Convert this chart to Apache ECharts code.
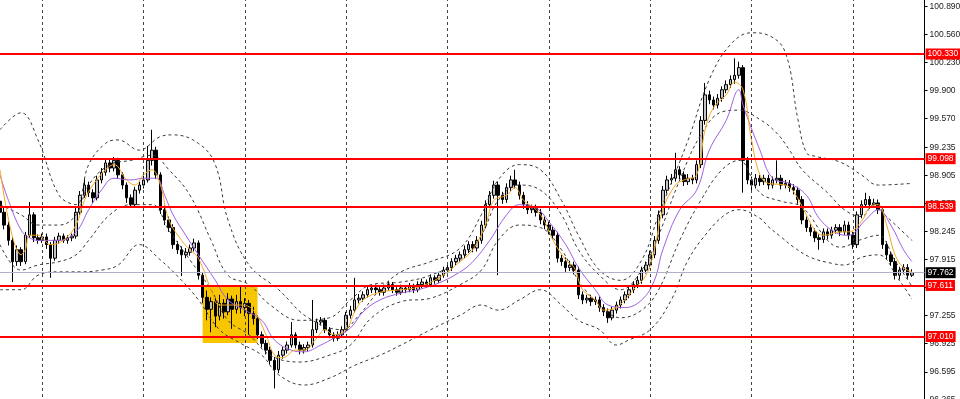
<!DOCTYPE html>
<html><head><meta charset="utf-8">
<script src="https://cdn.jsdelivr.net/npm/echarts@6/dist/echarts.min.js"></script>
<style>html,body{margin:0;padding:0;background:#fff;overflow:hidden}#c{width:960px;height:399px}</style>
</head><body><div id="c"></div>
<script>
const opens = [98.60,98.47,98.32,98.14,97.89,98.03,97.89,98.20,98.44,98.17,98.14,98.18,98.09,97.93,98.14,98.19,98.14,98.17,98.19,98.47,98.67,98.79,98.70,98.64,98.85,98.94,99.05,98.99,99.08,98.91,98.79,98.64,98.56,98.73,98.79,98.85,99.08,99.20,98.91,98.50,98.38,98.29,98.09,98.03,97.97,98.00,98.05,98.11,97.73,97.47,97.33,97.42,97.25,97.40,97.30,97.45,97.33,97.42,97.35,97.40,97.28,97.22,97.03,96.93,96.85,96.73,96.62,96.79,96.85,96.91,97.03,96.91,96.85,96.88,96.91,97.09,97.18,97.20,97.09,97.03,96.99,97.03,97.09,97.26,97.32,97.44,97.46,97.50,97.56,97.58,97.56,97.53,97.58,97.62,97.56,97.53,97.58,97.56,97.60,97.56,97.62,97.65,97.62,97.70,97.67,97.73,97.79,97.82,97.89,97.93,97.97,98.03,98.09,98.05,98.14,98.32,98.56,98.67,98.79,98.67,98.62,98.76,98.85,98.79,98.67,98.56,98.50,98.52,98.47,98.38,98.32,98.26,98.20,97.93,97.89,97.82,97.85,97.79,97.50,97.44,97.46,97.42,97.44,97.35,97.30,97.23,97.32,97.38,97.44,97.50,97.56,97.62,97.67,97.79,97.85,97.97,98.14,98.44,98.73,98.85,98.87,98.97,98.91,98.83,98.87,98.85,99.03,99.55,99.85,99.79,99.73,99.81,99.91,99.97,100.03,100.08,100.17,99.08,98.85,98.79,98.87,98.83,98.87,98.79,98.85,98.87,98.79,98.81,98.76,98.73,98.62,98.38,98.29,98.24,98.17,98.15,98.24,98.20,98.26,98.29,98.24,98.32,98.20,98.09,98.44,98.56,98.62,98.56,98.58,98.50,98.09,97.97,97.89,97.73,97.79,97.82,97.73];
const closes = [98.47,98.32,98.14,97.89,98.03,97.89,98.20,98.44,98.17,98.14,98.18,98.09,97.93,98.14,98.19,98.14,98.17,98.19,98.47,98.67,98.79,98.70,98.64,98.85,98.94,99.05,98.99,99.08,98.91,98.79,98.64,98.56,98.73,98.79,98.85,99.08,99.20,98.91,98.50,98.38,98.29,98.09,98.03,97.97,98.00,98.05,98.11,97.73,97.47,97.33,97.42,97.25,97.40,97.30,97.45,97.33,97.42,97.35,97.40,97.28,97.22,97.03,96.93,96.85,96.73,96.62,96.79,96.85,96.91,97.03,96.91,96.85,96.88,96.91,97.09,97.18,97.20,97.09,97.03,96.99,97.03,97.09,97.26,97.32,97.44,97.46,97.50,97.56,97.58,97.56,97.53,97.58,97.62,97.56,97.53,97.58,97.56,97.60,97.56,97.62,97.65,97.62,97.70,97.67,97.73,97.79,97.82,97.89,97.93,97.97,98.03,98.09,98.05,98.14,98.32,98.56,98.67,98.79,98.67,98.62,98.76,98.85,98.79,98.67,98.56,98.50,98.52,98.47,98.38,98.32,98.26,98.20,97.93,97.89,97.82,97.85,97.79,97.50,97.44,97.46,97.42,97.44,97.35,97.30,97.23,97.32,97.38,97.44,97.50,97.56,97.62,97.67,97.79,97.85,97.97,98.14,98.44,98.73,98.85,98.87,98.97,98.91,98.83,98.87,98.85,99.03,99.55,99.85,99.79,99.73,99.81,99.91,99.97,100.03,100.08,100.17,99.08,98.85,98.79,98.87,98.83,98.87,98.79,98.85,98.87,98.79,98.81,98.76,98.73,98.62,98.38,98.29,98.24,98.17,98.15,98.24,98.20,98.26,98.29,98.24,98.32,98.20,98.09,98.44,98.56,98.62,98.56,98.58,98.50,98.09,97.97,97.89,97.73,97.79,97.82,97.73,97.76];
const highs = [98.66,98.52,98.36,98.18,98.08,98.06,98.24,98.59,98.47,98.21,98.22,98.22,98.12,98.18,98.23,98.22,98.20,98.22,98.52,98.72,98.86,98.83,98.74,98.90,98.99,99.10,99.09,99.12,99.11,98.94,98.82,98.68,98.77,98.83,98.90,99.25,99.44,99.24,98.94,98.55,98.42,98.33,98.13,98.07,98.05,98.09,98.16,98.14,97.76,97.55,97.47,97.46,97.50,97.45,97.52,97.49,97.50,97.60,97.46,97.44,97.36,97.26,97.07,96.97,96.89,96.77,96.84,96.89,96.95,97.18,97.06,96.95,96.92,96.95,97.44,97.22,97.24,97.23,97.12,97.06,97.07,97.13,97.30,97.37,97.70,97.51,97.54,97.60,97.62,97.62,97.59,97.62,97.66,97.65,97.59,97.62,97.61,97.64,97.63,97.66,97.69,97.68,97.74,97.73,97.77,97.83,97.86,97.93,97.97,98.01,98.08,98.13,98.13,98.19,98.37,98.61,98.72,98.84,98.83,98.71,98.81,98.90,98.97,98.83,98.71,98.60,98.56,98.56,98.51,98.42,98.36,98.30,98.24,97.97,97.94,97.90,97.89,97.83,97.54,97.50,97.50,97.48,97.48,97.39,97.34,97.36,97.42,97.48,97.54,97.60,97.66,97.72,97.83,97.89,98.02,98.19,98.49,98.78,98.90,98.92,99.17,99.01,98.95,98.92,98.91,99.08,99.60,99.99,99.90,99.83,99.86,99.95,100.02,100.08,100.28,100.24,100.20,99.12,98.89,98.92,98.91,98.91,98.91,98.89,99.08,98.91,98.85,98.85,98.80,98.77,98.66,98.42,98.33,98.28,98.21,98.28,98.28,98.30,98.33,98.33,98.37,98.36,98.24,98.48,98.61,98.70,98.66,98.63,98.62,98.54,98.13,98.01,97.93,97.83,97.86,97.86,97.80];
const lows = [98.42,98.27,98.08,97.65,97.84,97.84,97.86,98.17,98.12,98.10,98.11,98.04,97.70,97.90,98.10,98.11,98.10,98.13,98.16,98.44,98.64,98.65,98.58,98.61,98.81,98.90,98.94,98.95,98.87,98.74,98.58,98.52,98.53,98.69,98.75,98.82,99.02,98.86,98.45,98.32,98.24,98.04,97.98,97.72,97.93,97.96,98.01,97.68,97.40,97.20,97.06,97.12,97.20,97.22,97.26,97.10,97.28,97.28,97.25,97.03,97.15,96.98,96.88,96.80,96.68,96.40,96.58,96.75,96.81,96.88,96.87,96.80,96.81,96.84,96.88,97.05,97.14,97.05,96.99,96.95,96.96,97.00,97.06,97.22,97.29,97.40,97.42,97.47,97.52,97.52,97.49,97.49,97.55,97.52,97.49,97.50,97.52,97.53,97.52,97.53,97.58,97.58,97.59,97.63,97.64,97.70,97.75,97.78,97.85,97.89,97.93,97.99,98.00,98.01,98.10,98.28,98.52,98.63,97.73,98.57,98.58,98.72,98.75,98.62,98.51,98.45,98.46,98.42,98.33,98.27,98.21,98.15,97.88,97.84,97.77,97.78,97.74,97.45,97.39,97.40,97.37,97.38,97.30,97.25,97.17,97.20,97.28,97.34,97.40,97.46,97.52,97.58,97.63,97.75,97.81,97.93,98.10,98.40,98.69,98.80,98.83,98.86,98.78,98.79,98.80,98.81,98.99,99.50,99.74,99.68,99.69,99.77,99.87,99.93,99.98,100.04,98.70,98.80,98.73,98.75,98.78,98.79,98.74,98.75,98.81,98.74,98.75,98.71,98.68,98.57,98.33,98.24,98.19,98.12,98.03,98.11,98.15,98.16,98.22,98.19,98.20,98.15,98.04,98.05,98.40,98.52,98.51,98.52,98.45,98.04,97.92,97.84,97.68,97.68,97.76,97.69,97.71];

const maFast = [[0,98.97],[5,97.97],[6,98.03],[7,98.20],[9,98.20],[12,98.09],[15,98.14],[18,98.32],[20,98.61],[22,98.79],[25,98.97],[27,99.03],[30,98.85],[32,98.79],[34,98.91],[36,98.97],[38,98.79],[40,98.38],[43,98.14],[45,98.03],[47,97.93],[50,97.56],[52,97.38],[57,97.38],[60,97.32],[63,97.03],[65,96.79],[67,96.76],[70,96.85],[72,96.85],[75,96.99],[77,97.09],[79,97.03],[82,97.09],[84,97.30],[86,97.44],[90,97.53],[95,97.56],[99,97.59],[104,97.70],[109,97.89],[112,98.03],[115,98.32],[117,98.61],[120,98.67],[122,98.76],[124,98.61],[127,98.50],[129,98.36],[131,98.14],[134,97.91],[136,97.82],[138,97.56],[141,97.44],[143,97.32],[146,97.35],[148,97.44],[150,97.56],[153,97.73],[155,98.03],[157,98.50],[160,98.79],[162,98.85],[165,98.91],[167,99.44],[169,99.70],[172,99.85],[174,100.00],[176,99.91],[178,99.32],[180,98.91],[182,98.81],[186,98.79],[188,98.71],[191,98.44],[193,98.26],[195,98.20],[199,98.24],[201,98.24],[204,98.36],[206,98.53],[208,98.56],[210,98.32],[212,97.97],[214,97.82],[216,97.77]];
const maSlow = [[0,98.91],[2,98.61],[5,98.26],[7,98.17],[9,98.14],[14,98.14],[18,98.24],[21,98.50],[24,98.73],[27,98.87],[31,98.85],[34,98.87],[37,98.87],[39,98.67],[41,98.44],[44,98.20],[47,97.97],[51,97.67],[54,97.44],[58,97.32],[62,97.20],[65,96.97],[69,96.85],[72,96.83],[76,96.91],[79,96.99],[83,97.11],[86,97.30],[90,97.44],[95,97.52],[99,97.56],[104,97.64],[109,97.77],[112,97.89],[116,98.14],[120,98.44],[123,98.56],[127,98.52],[130,98.36],[134,98.09],[137,97.82],[141,97.56],[144,97.38],[148,97.35],[152,97.44],[155,97.67],[157,98.03],[161,98.50],[165,98.73],[168,99.20],[172,99.55],[175,99.91],[176,99.73],[180,99.20],[183,98.87],[187,98.81],[191,98.67],[194,98.40],[198,98.23],[201,98.20],[205,98.38],[208,98.50],[211,98.32],[214,98.03],[216,97.89]];
const bandUpOuter = [[0,99.44],[5,99.64],[9,99.32],[14,98.67],[18,98.56],[21,99.03],[25,99.28],[28,99.32],[33,99.20],[38,99.36],[41,99.38],[47,99.28],[51,99.03],[54,98.38],[59,97.85],[66,97.56],[73,97.23],[81,97.09],[85,97.26],[90,97.56],[95,97.77],[102,97.89],[109,98.05],[114,98.44],[118,98.85],[123,99.03],[128,98.97],[133,98.61],[137,98.20],[142,97.79],[147,97.67],[152,97.91],[156,98.44],[163,99.32],[168,100.03],[173,100.44],[178,100.58],[182,100.55],[186,100.35],[189,99.56],[191,99.17],[193,99.13],[199,99.06],[204,98.91],[208,98.79],[216,98.81]];
const bandUpInner = [[0,98.56],[5,98.44],[9,98.32],[14,98.32],[18,98.44],[21,98.79],[26,99.03],[31,99.08],[36,99.14],[40,98.97],[45,98.67],[50,98.14],[54,97.73],[59,97.62],[64,97.38],[71,97.20],[78,97.23],[83,97.44],[88,97.62],[95,97.65],[102,97.73],[109,97.91],[114,98.20],[118,98.61],[123,98.79],[128,98.73],[133,98.44],[137,98.03],[142,97.73],[147,97.56],[152,97.79],[156,98.20],[161,98.85],[166,99.38],[171,99.65],[175,99.67],[180,99.56],[184,99.40],[187,99.20],[190,98.97],[196,98.70],[200,98.50],[204,98.42],[207,98.56],[210,98.42],[216,98.14]];
const bandLoInner = [[0,98.09],[5,97.79],[9,97.85],[14,97.89],[18,97.97],[21,98.14],[26,98.44],[31,98.56],[36,98.56],[40,98.26],[45,97.91],[50,97.56],[54,97.20],[59,97.03],[64,96.79],[71,96.71],[78,96.79],[83,96.91],[88,97.23],[95,97.42],[102,97.46],[109,97.62],[114,97.79],[118,98.14],[123,98.32],[128,98.29],[133,98.03],[137,97.67],[142,97.38],[147,97.23],[152,97.32],[156,97.56],[161,98.14],[166,98.61],[171,98.97],[175,99.08],[180,98.70],[185,98.60],[190,98.53],[196,98.14],[199,98.06],[204,98.15],[208,98.20],[212,97.90],[216,97.60]];
const bandLoOuter = [[0,97.56],[5,97.56],[9,97.73],[14,97.77],[19,97.77],[24,97.79],[28,97.85],[33,98.09],[38,97.91],[43,97.67],[47,97.44],[52,97.09],[57,96.93],[62,96.79],[66,96.56],[72,96.44],[78,96.52],[84,96.67],[90,96.79],[95,96.91],[102,97.09],[109,97.26],[114,97.38],[118,97.32],[123,97.44],[128,97.56],[133,97.38],[137,97.20],[142,97.09],[146,96.91],[149,96.97],[154,97.09],[159,97.44],[163,97.91],[168,98.26],[172,98.45],[175,98.50],[180,98.40],[182,98.30],[185,98.18],[188,98.06],[192,97.94],[197,97.87],[200,97.85],[204,97.94],[208,97.97],[213,97.67],[216,97.45]];

const levels = [100.330, 99.098, 98.539, 97.611, 97.010];
const lastPrice = 97.762;
const tickValues = [96.265, 96.595, 96.925, 97.255, 97.585, 97.915, 98.245, 98.575, 98.905, 99.235, 99.570, 99.900, 100.230, 100.560, 100.890];
const gridBars = [10, 34, 58, 82, 106, 130, 154, 178, 202];
const zoneBars = [48, 61];
const zonePrices = [97.611, 96.934];
const barCount = 220;

const cats = [];
for (let i = 0; i < barCount; i++) cats.push(String(i));
const candleData = opens.map((o, i) => [o, closes[i], lows[i], highs[i]]);

const chart = echarts.init(document.getElementById('c'), null, {renderer: 'canvas'});
const dashed = (data, name) => ({
  type: 'line', name, data, symbol: 'none', smooth: 0.4, z: 3,
  lineStyle: {color: '#3a3a3a', width: 1, type: [3, 3]}, silent: true
});
const boxLabel = (txt, bg) => ({show: true, position: 'end', distance: 1, formatter: txt, color: '#fff', backgroundColor: bg,
  padding: [1, 2, 1, 2], fontFamily: 'Liberation Sans', fontSize: 8.5});
chart.setOption({
  animation: false,
  backgroundColor: '#ffffff',
  grid: {left: 0, right: 35.4, top: 0, bottom: -10, outerBoundsMode: 'none', containLabel: false},
  xAxis: {type: 'category', data: cats, boundaryGap: false, show: false},
  yAxis: {
    type: 'value', position: 'right', min: 96.158, max: 100.965, scale: true,
    splitLine: {show: false},
    axisLine: {show: true, lineStyle: {color: '#000', width: 1}},
    axisTick: {show: true, length: 3, inside: false, customValues: tickValues, lineStyle: {color: '#000'}},
    axisLabel: {customValues: tickValues, formatter: v => v.toFixed(3), color: '#222', fontFamily: 'Liberation Sans', fontSize: 8.5, margin: 5}
  },
  series: [
    {
      type: 'line', data: [], z: 1, silent: true,
      markLine: {symbol: 'none', silent: true, label: {show: false},
        lineStyle: {color: '#444', width: 1, type: [3, 3]},
        data: gridBars.map(b => ({xAxis: String(b)}))},
      markArea: {silent: true, itemStyle: {color: '#F7C600', opacity: 1},
        data: [[{xAxis: String(zoneBars[0]), yAxis: zonePrices[0]}, {xAxis: String(zoneBars[1]), yAxis: zonePrices[1]}]]}
    },
    {
      type: 'candlestick', data: candleData, barWidth: 3, z: 2,
      itemStyle: {color: '#c4c4c4', color0: '#000000', borderColor: '#000000', borderColor0: '#000000', borderWidth: 1}
    },
    dashed(bandUpOuter, 'uo'), dashed(bandUpInner, 'ui'), dashed(bandLoInner, 'li'), dashed(bandLoOuter, 'lo'),
    {type: 'line', data: maSlow, symbol: 'none', smooth: 0.4, z: 4, lineStyle: {color: '#A05FE0', width: 1}},
    {type: 'line', data: maFast, symbol: 'none', smooth: 0.4, z: 4, lineStyle: {color: '#F5A623', width: 1}},
    {
      type: 'line', data: [], z: 5, silent: true,
      markLine: {symbol: 'none', silent: true,
        data: [
          {yAxis: lastPrice, lineStyle: {color: '#B0B0C8', width: 1, type: 'solid'}, label: boxLabel(lastPrice.toFixed(3), '#000')}
        ].concat(levels.map(l => ({yAxis: l, lineStyle: {color: '#FF0000', width: 2, type: 'solid'}, label: boxLabel(l.toFixed(3), '#FF0000')})))
      }
    }
  ]
});
</script></body></html>
